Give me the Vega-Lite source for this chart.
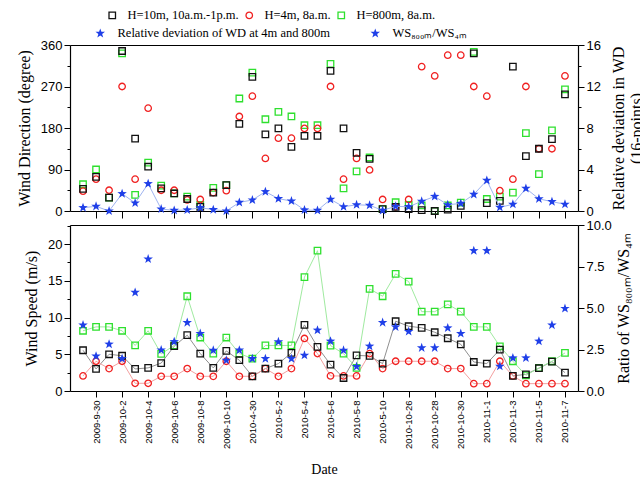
{
  "$schema": "https://vega.github.io/schema/vega-lite/v6.json",
  "width": 508,
  "height": 346,
  "padding": {"left": 16, "top": 9, "right": 0, "bottom": 0},
  "data": {"values": [
    {"d": "2009-9-29", "wd10": 48, "wd4": 43, "wd800": 58, "dev": 0.32, "ws10": 5.55, "ws4": 2.05, "ws800": 8.2, "ratio": 3.97},
    {"d": "2009-9-30", "wd10": 74, "wd4": 69, "wd800": 90, "dev": 0.45, "ws10": 3.0, "ws4": 4.05, "ws800": 8.73, "ratio": 2.1},
    {"d": "2009-10-1", "wd10": 29, "wd4": 45, "wd800": 29, "dev": 0, "ws10": 5.0, "ws4": 3.05, "ws800": 8.73, "ratio": 2.82},
    {"d": "2009-10-2", "wd10": 347, "wd4": 270, "wd800": 342, "dev": 1.67, "ws10": 4.8, "ws4": 4.05, "ws800": 8.2, "ratio": 1.95},
    {"d": "2009-10-3", "wd10": 157, "wd4": 69, "wd800": 35, "dev": 0.77, "ws10": 3.0, "ws4": 1.05, "ws800": 6.2, "ratio": 5.94},
    {"d": "2009-10-4", "wd10": 96, "wd4": 223, "wd800": 105, "dev": 2.63, "ws10": 3.15, "ws4": 1.05, "ws800": 8.2, "ratio": 7.95},
    {"d": "2009-10-5", "wd10": 49, "wd4": 45, "wd800": 55, "dev": 0.19, "ws10": 3.8, "ws4": 2.0, "ws800": 5.05, "ratio": 2.47},
    {"d": "2009-10-6", "wd10": 38, "wd4": 45, "wd800": 38, "dev": 0.06, "ws10": 6.1, "ws4": 2.0, "ws800": 6.2, "ratio": 2.97},
    {"d": "2009-10-7", "wd10": 26, "wd4": 24, "wd800": 31, "dev": 0.1, "ws10": 7.6, "ws4": 3.05, "ws800": 12.9, "ratio": 4.12},
    {"d": "2009-10-8", "wd10": 9, "wd4": 25, "wd800": 13, "dev": 0.32, "ws10": 5.1, "ws4": 2.0, "ws800": 7.28, "ratio": 3.46},
    {"d": "2009-10-9", "wd10": 40, "wd4": 40, "wd800": 50, "dev": 0.13, "ws10": 3.14, "ws4": 2.0, "ws800": 5.1, "ratio": 2.45},
    {"d": "2009-10-10", "wd10": 56, "wd4": 44, "wd800": 56, "dev": 0, "ws10": 5.46, "ws4": 4.05, "ws800": 7.28, "ratio": 1.85},
    {"d": "2010-4-29", "wd10": 189, "wd4": 205, "wd800": 244, "dev": 0.83, "ws10": 4.19, "ws4": 2.0, "ws800": 5.1, "ratio": 2.46},
    {"d": "2010-4-30", "wd10": 291, "wd4": 249, "wd800": 300, "dev": 1.06, "ws10": 2.0, "ws4": 2.0, "ws800": 4.42, "ratio": 1.95},
    {"d": "2010-5-1", "wd10": 166, "wd4": 114, "wd800": 199, "dev": 1.86, "ws10": 3.05, "ws4": 3.05, "ws800": 6.2, "ratio": 1.95},
    {"d": "2010-5-2", "wd10": 179, "wd4": 158, "wd800": 215, "dev": 1.19, "ws10": 3.73, "ws4": 2.0, "ws800": 6.2, "ratio": 2.96},
    {"d": "2010-5-3", "wd10": 139, "wd4": 158, "wd800": 205, "dev": 0.96, "ws10": 5.19, "ws4": 3.05, "ws800": 6.2, "ratio": 1.95},
    {"d": "2010-5-4", "wd10": 163, "wd4": 179, "wd800": 186, "dev": 0.1, "ws10": 9.0, "ws4": 7.15, "ws800": 15.5, "ratio": 2.15},
    {"d": "2010-5-5", "wd10": 163, "wd4": 179, "wd800": 186, "dev": 0.06, "ws10": 6.0, "ws4": 5.1, "ws800": 19.1, "ratio": 3.66},
    {"d": "2010-5-6", "wd10": 304, "wd4": 270, "wd800": 319, "dev": 1.12, "ws10": 3.59, "ws4": 2.05, "ws800": 6.18, "ratio": 3.0},
    {"d": "2010-5-7", "wd10": 179, "wd4": 69, "wd800": 49, "dev": 0.41, "ws10": 1.77, "ws4": 2.05, "ws800": 5.09, "ratio": 2.45},
    {"d": "2010-5-8", "wd10": 126, "wd4": 114, "wd800": 86, "dev": 0.6, "ws10": 4.85, "ws4": 2.05, "ws800": 3.15, "ratio": 1.47},
    {"d": "2010-5-9", "wd10": 113, "wd4": 89, "wd800": 116, "dev": 0.55, "ws10": 4.77, "ws4": 5.09, "ws800": 13.9, "ratio": 2.7},
    {"d": "2010-5-10", "wd10": 4, "wd4": 25, "wd800": 4, "dev": 0.06, "ws10": 3.73, "ws4": 3.05, "ws800": 12.9, "ratio": 4.12},
    {"d": "2010-10-25", "wd10": 9, "wd4": 9, "wd800": 19, "dev": 0.45, "ws10": 9.5, "ws4": 4.05, "ws800": 15.95, "ratio": 3.86},
    {"d": "2010-10-26", "wd10": 4, "wd4": 25, "wd800": 13, "dev": 0.41, "ws10": 8.82, "ws4": 4.05, "ws800": 14.9, "ratio": 3.58},
    {"d": "2010-10-27", "wd10": 2, "wd4": 313, "wd800": 12, "dev": 0.93, "ws10": 8.6, "ws4": 4.05, "ws800": 10.8, "ratio": 2.6},
    {"d": "2010-10-28", "wd10": 0, "wd4": 293, "wd800": 0, "dev": 1.4, "ws10": 8.0, "ws4": 4.05, "ws800": 10.8, "ratio": 2.6},
    {"d": "2010-10-29", "wd10": 3, "wd4": 338, "wd800": 12, "dev": 0.6, "ws10": 7.18, "ws4": 3.05, "ws800": 11.8, "ratio": 3.8},
    {"d": "2010-10-30", "wd10": 11, "wd4": 338, "wd800": 18, "dev": 0.73, "ws10": 6.36, "ws4": 3.05, "ws800": 10.8, "ratio": 3.46},
    {"d": "2010-10-31", "wd10": 342, "wd4": 270, "wd800": 345, "dev": 1.6, "ws10": 3.95, "ws4": 1.0, "ws800": 8.73, "ratio": 8.45},
    {"d": "2010-11-1", "wd10": 17, "wd4": 249, "wd800": 26, "dev": 2.95, "ws10": 3.73, "ws4": 1.0, "ws800": 8.73, "ratio": 8.45},
    {"d": "2010-11-2", "wd10": 22, "wd4": 44, "wd800": 31, "dev": 0.35, "ws10": 5.64, "ws4": 4.05, "ws800": 6.09, "ratio": 1.49},
    {"d": "2010-11-3", "wd10": 313, "wd4": 69, "wd800": 40, "dev": 0.65, "ws10": 2.05, "ws4": 2.05, "ws800": 4.05, "ratio": 1.99},
    {"d": "2010-11-4", "wd10": 119, "wd4": 270, "wd800": 169, "dev": 2.18, "ws10": 2.27, "ws4": 1.0, "ws800": 2.14, "ratio": 1.99},
    {"d": "2010-11-5", "wd10": 135, "wd4": 135, "wd800": 80, "dev": 1.17, "ws10": 3.1, "ws4": 1.0, "ws800": 3.14, "ratio": 3.0},
    {"d": "2010-11-6", "wd10": 156, "wd4": 135, "wd800": 175, "dev": 0.9, "ws10": 4.0, "ws4": 1.0, "ws800": 4.05, "ratio": 3.97},
    {"d": "2010-11-7", "wd10": 253, "wd4": 293, "wd800": 264, "dev": 0.65, "ws10": 2.5, "ws4": 1.0, "ws800": 5.18, "ratio": 4.97}
  ]},
  "layer": [
    {"transform": [{"fold": ["ws10", "ws4", "ws800"], "as": ["s", "v"]}],
     "mark": {"type": "line", "strokeWidth": 1},
     "encoding": {
       "x": {"field": "d", "type": "ordinal", "sort": null, "scale": {"type": "point", "padding": 1},
         "axis": {"orient": "bottom", "values": ["2009-9-30","2009-10-2","2009-10-4","2009-10-6","2009-10-8","2009-10-10","2010-4-30","2010-5-2","2010-5-4","2010-5-6","2010-5-8","2010-5-10","2010-10-26","2010-10-28","2010-10-30","2010-11-1","2010-11-3","2010-11-5","2010-11-7"],
           "title": "Date", "titleFontSize": 14, "labelAngle": -90, "labelFontSize": 9.5, "tickSize": 6, "labelPadding": 3, "titlePadding": 14}},
       "y": {"field": "v", "type": "quantitative", "scale": {"domain": [0, 22.6], "nice": false, "range": [346, 180]},
         "axis": {"orient": "left", "title": "Wind Speed (m/s)", "values": [0, 5, 10, 15, 20], "tickSize": 6, "titlePadding": 8}},
       "color": {"field": "s", "type": "nominal", "scale": {"domain": ["ws10", "ws4", "ws800"], "range": ["#909090", "#f4a0a0", "#a0eaa0"]}, "legend": null}
     }},
    {"transform": [{"fold": ["ws800"], "as": ["s", "v"]}],
     "mark": {"type": "point", "filled": false, "size": 42, "strokeWidth": 1.3, "opacity": 1},
     "encoding": {
       "x": {"field": "d", "type": "ordinal", "sort": null, "scale": {"type": "point", "padding": 1},
         "axis": {"orient": "top", "offset": -180, "ticks": false, "labels": false, "title": null}},
       "y": {"field": "v", "type": "quantitative", "scale": {"domain": [0, 22.6], "nice": false, "range": [346, 180]},
         "axis": {"orient": "left", "values": [2.5, 7.5, 12.5, 17.5, 22.5], "labels": false, "domain": false, "tickSize": 3, "title": null}},
       "stroke": {"field": "s", "type": "nominal",
         "scale": {"domain": ["wd10", "wd4", "wd800", "ws10", "ws4", "ws800"], "range": ["#111111", "#f02020", "#2ee02e", "#111111", "#f02020", "#2ee02e"]}},
       "shape": {"field": "s", "type": "nominal",
         "scale": {"domain": ["wd10", "wd4", "wd800", "ws10", "ws4", "ws800"], "range": ["square", "circle", "square", "square", "circle", "square"]}}
     }},
    {"transform": [{"fold": ["ws4", "ws10"], "as": ["s", "v"]}],
     "mark": {"type": "point", "filled": false, "size": 42, "strokeWidth": 1.3, "opacity": 1},
     "encoding": {
       "x": {"field": "d", "type": "ordinal", "sort": null, "scale": {"type": "point", "padding": 1}, "axis": null},
       "y": {"field": "v", "type": "quantitative", "scale": {"domain": [0, 22.6], "nice": false, "range": [346, 180]}, "axis": null},
       "stroke": {"field": "s", "type": "nominal"},
       "shape": {"field": "s", "type": "nominal"}
     }},
    {"transform": [{"fold": ["ratio"], "as": ["k", "v"]}],
     "mark": {"type": "point", "shape": "M0,-1L0.235,-0.324L0.951,-0.309L0.38,0.124L0.588,0.809L0,0.4L-0.588,0.809L-0.38,0.124L-0.951,-0.309L-0.235,-0.324Z", "filled": true, "size": 100, "opacity": 1},
     "encoding": {
       "x": {"field": "d", "type": "ordinal", "sort": null, "scale": {"type": "point", "padding": 1}, "axis": null},
       "y": {"field": "v", "type": "quantitative", "scale": {"domain": [0, 10], "nice": false, "range": [346, 180]},
         "axis": {"orient": "right", "title": "Ratio of WS₈₀₀ₘ/WS₄ₘ", "titleAngle": 270, "titleBaseline": "top", "values": [0, 2.5, 5, 7.5, 10], "format": ".1f", "tickSize": 6, "titlePadding": 4}},
       "fill": {"field": "k", "type": "nominal"}
     }},
    {"transform": [{"fold": ["wd800"], "as": ["s", "v"]}],
     "mark": {"type": "point", "filled": false, "size": 42, "strokeWidth": 1.3, "opacity": 1},
     "encoding": {
       "x": {"field": "d", "type": "ordinal", "sort": null, "scale": {"type": "point", "padding": 1},
         "axis": {"orient": "bottom", "offset": -180, "values": ["2009-9-30","2009-10-2","2009-10-4","2009-10-6","2009-10-8","2009-10-10","2010-4-30","2010-5-2","2010-5-4","2010-5-6","2010-5-8","2010-5-10","2010-10-26","2010-10-28","2010-10-30","2010-11-1","2010-11-3","2010-11-5","2010-11-7"],
           "labels": false, "title": null, "tickSize": 7}},
       "y": {"field": "v", "type": "quantitative", "scale": {"domain": [0, 360], "nice": false, "range": [166, 0]},
         "axis": {"orient": "left", "values": [45, 135, 225, 315], "labels": false, "domain": false, "tickSize": 3, "title": null}},
       "stroke": {"field": "s", "type": "nominal"},
       "shape": {"field": "s", "type": "nominal"}
     }},
    {"transform": [{"fold": ["wd4", "wd10"], "as": ["s", "v"]}],
     "mark": {"type": "point", "filled": false, "size": 42, "strokeWidth": 1.3, "opacity": 1},
     "encoding": {
       "x": {"field": "d", "type": "ordinal", "sort": null, "scale": {"type": "point", "padding": 1}, "axis": null},
       "y": {"field": "v", "type": "quantitative", "scale": {"domain": [0, 360], "nice": false, "range": [166, 0]},
         "axis": {"orient": "left", "title": "Wind Direction (degree)", "values": [0, 90, 180, 270, 360], "tickSize": 6, "titlePadding": 8}},
       "stroke": {"field": "s", "type": "nominal",
         "legend": {"orient": "none", "legendX": 36, "legendY": -36, "direction": "horizontal", "title": null,
           "values": ["wd10", "wd4", "wd800"], "symbolSize": 42, "symbolStrokeWidth": 1.3, "labelOffset": 9, "columnPadding": 4, "labelLimit": 400,
           "labelExpr": "datum.label === 'wd10' ? 'H=10m, 10a.m.-1p.m.' : datum.label === 'wd4' ? 'H=4m, 8a.m.' : 'H=800m, 8a.m.'"}},
       "shape": {"field": "s", "type": "nominal",
         "legend": {"orient": "none", "legendX": 36, "legendY": -36, "direction": "horizontal", "title": null,
           "values": ["wd10", "wd4", "wd800"], "symbolSize": 42, "symbolStrokeWidth": 1.3, "labelOffset": 9, "columnPadding": 4, "labelLimit": 400,
           "labelExpr": "datum.label === 'wd10' ? 'H=10m, 10a.m.-1p.m.' : datum.label === 'wd4' ? 'H=4m, 8a.m.' : 'H=800m, 8a.m.'"}}
     }},
    {"mark": {"type": "line", "color": "#9fb4f0", "strokeWidth": 1},
     "encoding": {
       "x": {"field": "d", "type": "ordinal", "sort": null, "scale": {"type": "point", "padding": 1},
         "axis": {"orient": "top", "ticks": false, "labels": false, "title": null}},
       "y": {"field": "dev", "type": "quantitative", "scale": {"domain": [0, 16], "nice": false, "range": [166, 0]},
         "axis": {"orient": "right", "title": ["Relative deviation in WD", "(16-points)"], "titleAngle": 270, "titleBaseline": "top",
           "values": [0, 4, 8, 12, 16], "tickSize": 6, "titlePadding": -8}}
     }},
    {"transform": [{"fold": ["dev"], "as": ["k", "v"]}],
     "mark": {"type": "point", "shape": "M0,-1L0.235,-0.324L0.951,-0.309L0.38,0.124L0.588,0.809L0,0.4L-0.588,0.809L-0.38,0.124L-0.951,-0.309L-0.235,-0.324Z", "filled": true, "size": 100, "opacity": 1},
     "encoding": {
       "x": {"field": "d", "type": "ordinal", "sort": null, "scale": {"type": "point", "padding": 1}, "axis": null},
       "y": {"field": "v", "type": "quantitative", "scale": {"domain": [0, 16], "nice": false, "range": [166, 0]},
         "axis": {"orient": "right", "values": [2, 6, 10, 14], "labels": false, "domain": false, "tickSize": 3, "title": null}},
       "fill": {"field": "k", "type": "nominal", "scale": {"domain": ["dev", "ratio"], "range": ["#1f3fe8", "#1f3fe8"]},
         "legend": {"orient": "none", "legendX": 24, "legendY": -18, "direction": "horizontal", "title": null,
           "symbolType": "M0,-1L0.235,-0.324L0.951,-0.309L0.38,0.124L0.588,0.809L0,0.4L-0.588,0.809L-0.38,0.124L-0.951,-0.309L-0.235,-0.324Z",
           "symbolSize": 100, "labelOffset": 11, "columnPadding": 38, "labelLimit": 400,
           "labelExpr": "datum.label === 'dev' ? 'Relative deviation of WD at 4m and 800m' : 'WS₈₀₀ₘ/WS₄ₘ'",
           "encode": {"symbols": {"update": {
             "shape": {"signal": "datum.value === 'dev' ? 'M-2.9,0H-1M1,0H3M0,-1L0.235,-0.324L0.951,-0.309L0.38,0.124L0.588,0.809L0,0.4L-0.588,0.809L-0.38,0.124L-0.951,-0.309L-0.235,-0.324Z' : 'M0,-1L0.235,-0.324L0.951,-0.309L0.38,0.124L0.588,0.809L0,0.4L-0.588,0.809L-0.38,0.124L-0.951,-0.309L-0.235,-0.324Z'"},
             "stroke": {"signal": "datum.value === 'dev' ? '#9fb4f0' : 'transparent'"},
             "strokeWidth": {"value": 1.2}}}}}}
     }}
  ],
  "resolve": {"scale": {"x": "independent", "y": "independent"}},
  "config": {
    "view": {"stroke": null},
    "axis": {"domainColor": "#000", "domainWidth": 1.2, "tickColor": "#000", "tickWidth": 1, "labelColor": "#000", "titleColor": "#000",
      "labelFont": "Liberation Sans", "labelFontSize": 13, "titleFont": "Liberation Serif", "titleFontSize": 16, "titleFontWeight": "normal", "grid": false},
    "legend": {"labelFont": "Liberation Serif", "labelFontSize": 12.5, "labelColor": "#000"}
  }
}
